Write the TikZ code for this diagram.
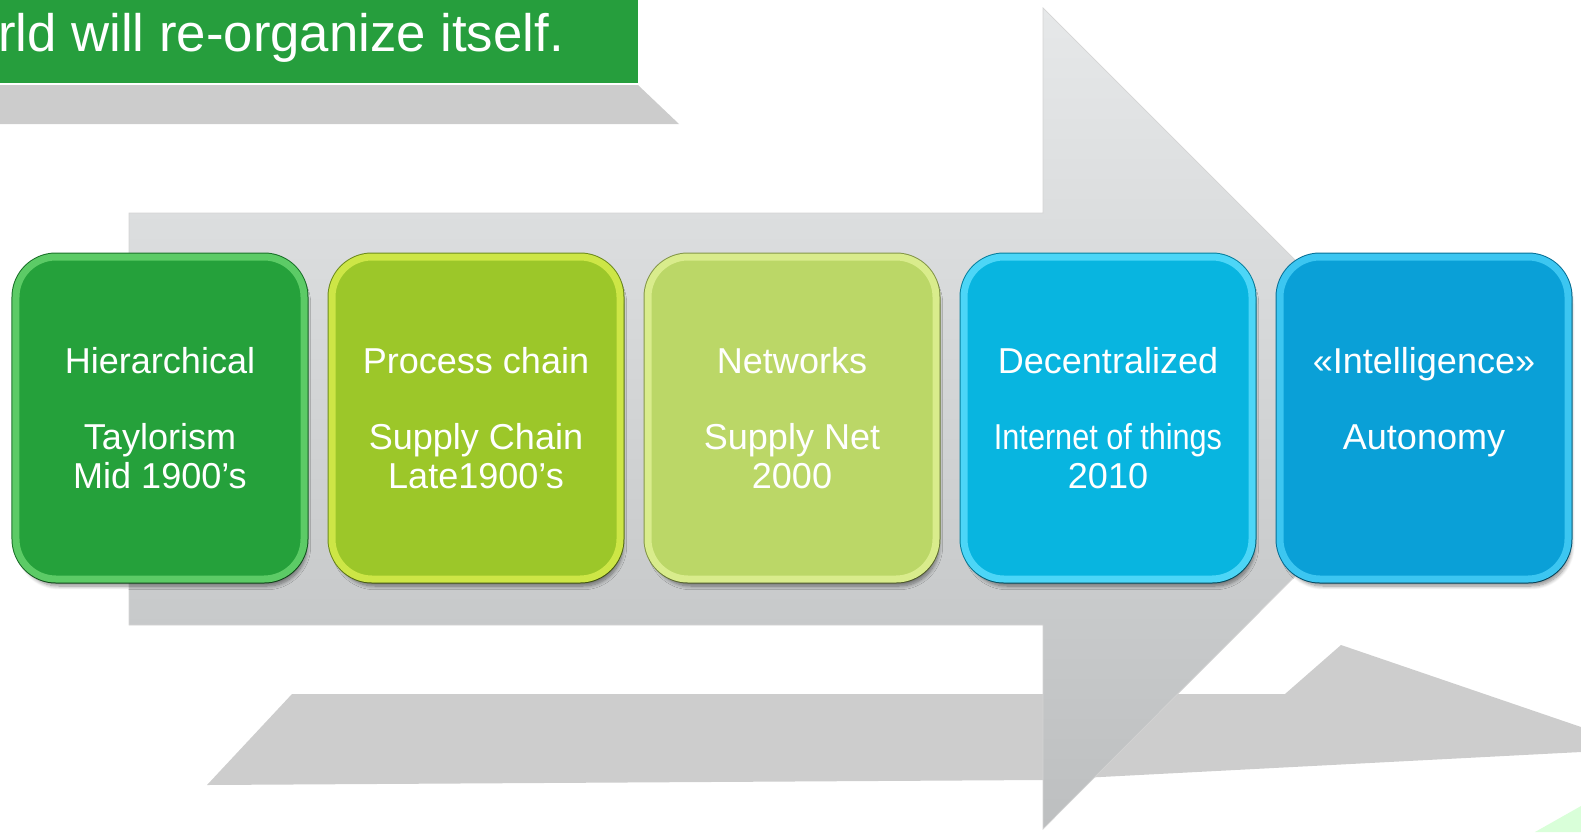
\documentclass[tikz,border=0pt]{standalone}
\usepackage{fontspec}
\setmainfont{Liberation Sans}
\usetikzlibrary{shadows.blur}
\definecolor{hiergreen}{HTML}{25A13B}
\definecolor{hierrim}{HTML}{5CCB66}
\definecolor{procgreen}{HTML}{9CC729}
\definecolor{procrim}{HTML}{CDE646}
\definecolor{netgreen}{HTML}{BBD767}
\definecolor{netrim}{HTML}{D9EC8C}
\definecolor{decblue}{HTML}{08B5E0}
\definecolor{decrim}{HTML}{4CD6F7}
\definecolor{intelblue}{HTML}{0AA0D7}
\definecolor{intelrim}{HTML}{3CC6F1}
\definecolor{bannergreen}{HTML}{269E3D}
\definecolor{bandgrey}{HTML}{CCCCCC}
\definecolor{arrowtop}{HTML}{E6E8E9}
\definecolor{arrowmid}{HTML}{D5D7D8}
\definecolor{arrowbot}{HTML}{BDBFC0}
\definecolor{floorgrey}{HTML}{CDCDCD}
\tikzset{
  stage/.style 2 args={rectangle, rounded corners=8mm, minimum width=57.6mm,
    minimum height=64.4mm, fill=#1, draw=#2, line width=1.4mm,
    preaction={draw=#1!70!black, line width=1.8mm},
    text=white, align=center, font=\fontsize{20.5}{21.7}\selectfont,
    blur shadow={shadow xshift=0.6mm, shadow yshift=-1.4mm,
      shadow blur steps=8, shadow opacity=45}},
}
\begin{document}
\begin{tikzpicture}[x=0.2mm, y=-0.2mm]
  \useasboundingbox (0,0) rectangle (1581,832);
  % floor shadow of the arrow
  \fill[floorgrey] (207,785) -- (292,694) -- (1285,694) -- (1341,645)
    -- (1581,727) -- (1581,752) -- (1043,780) -- cycle;
  \fill[green!15!white] (1535,832) -- (1581,806) -- (1581,832) -- cycle;
  % big arrow
  \shade[top color=arrowtop, middle color=arrowmid, bottom color=arrowbot,
    draw=black!17] (129,213) -- (1043,213) -- (1043,8) -- (1453,418)
    -- (1043,829) -- (1043,625) -- (129,625) -- cycle;
  % stages
  \node[stage={hiergreen}{hierrim}] (hier) at (160,418)
    {Hierarchical\\[21.7pt]Taylorism\\Mid 1900’s};
  \node[stage={procgreen}{procrim}] (proc) at (476,418)
    {Process chain\\[21.7pt]Supply Chain\\Late1900’s};
  \node[stage={netgreen}{netrim}] (net) at (792,418)
    {Networks\\[21.7pt]Supply Net\\2000};
  \node[stage={decblue}{decrim}] (dec) at (1108,418)
    {Decentralized\\[21.7pt]\scalebox{0.85}[1]{Internet of things}\\2010};
  \node[stage={intelblue}{intelrim}] (intel) at (1424,418)
    {«Intelligence»\\[21.7pt]Autonomy\\\phantom{Mid 1900’s}};
  % title banner
  \fill[bandgrey] (0,85) -- (638,85) -- (679,124) -- (0,124) -- cycle;
  \fill[bannergreen] (0,0) rectangle (638,83);
  \node[anchor=base west, inner sep=0pt, text=white,
    font=\fontsize{30}{36}\selectfont] (title) at (-2,51)
    {rld will re-organize itself.};
\end{tikzpicture}
\end{document}
